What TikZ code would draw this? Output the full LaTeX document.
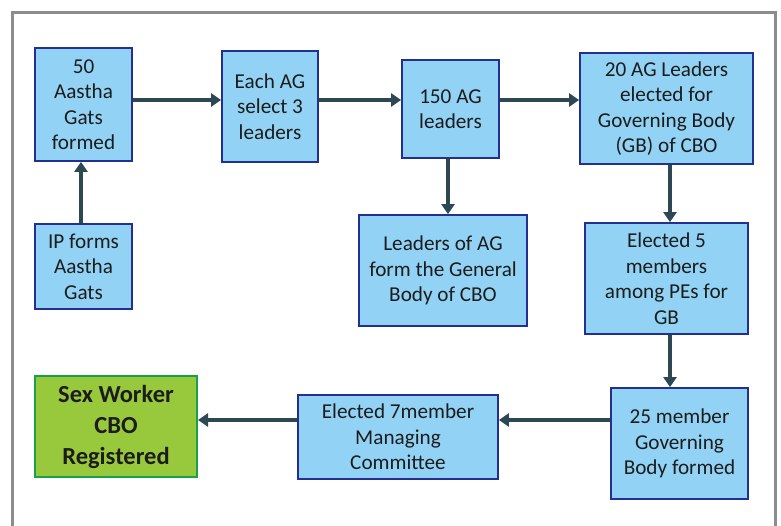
\documentclass[tikz,border=0pt]{standalone}
\usepackage{fontspec}
\setmainfont{Carlito}
\usetikzlibrary{arrows.meta}
\definecolor{boxfill}{HTML}{92D3F5}
\definecolor{boxline}{HTML}{24308F}
\definecolor{greenfill}{HTML}{98C93C}
\definecolor{greenline}{HTML}{18A04C}
\definecolor{arrowcol}{HTML}{2D4853}
\definecolor{framecol}{HTML}{8C8C8C}
\definecolor{txt}{HTML}{1C1C1C}
\tikzset{
  bluebox/.style={draw=boxline, fill=boxfill, line width=1.8pt, inner sep=0pt,
    align=center, text=txt, font=\fontsize{21.2}{25.5}\selectfont},
  greenbox/.style={draw=greenline, fill=greenfill, line width=2pt, inner sep=0pt,
    align=center, text=txt, font=\fontsize{24.5}{31}\selectfont\bfseries},
  flow/.style={draw=arrowcol, line width=4.2pt, -{Triangle[length=10pt,width=13pt]}}
}
\begin{document}
\begin{tikzpicture}[x=1pt,y=1pt]
\useasboundingbox (0,0) rectangle (781,526);
\fill[white] (0,0) rectangle (781,526);
\draw[framecol, line width=3pt] (12,-10) -- (12,513) -- (775,513) -- (775,-10);

\node[bluebox, minimum width=97pt, minimum height=113pt] (b1) at (83.5,421.5) {50\\Aastha\\Gats\\formed};
\node[bluebox, minimum width=96pt, minimum height=111pt] (b2) at (270,419.5) {Each AG\\select 3\\leaders};
\node[bluebox, minimum width=97pt, minimum height=98pt] (b3) at (450.5,417) {150 AG\\leaders};
\node[bluebox, minimum width=173pt, minimum height=111pt] (b4) at (666.5,417.5) {20 AG Leaders\\elected for\\Governing Body\\(GB) of CBO};
\node[bluebox, minimum width=97pt, minimum height=85pt] (b5) at (83.5,259.5) {IP forms\\Aastha\\Gats};
\node[bluebox, minimum width=168pt, minimum height=111pt] (b6) at (443,255.5) {Leaders of AG\\form the General\\Body of CBO};
\node[bluebox, minimum width=163pt, minimum height=111pt] (b7) at (666.5,247.5) {Elected 5\\members\\among PEs for\\GB};
\node[bluebox, minimum width=137pt, minimum height=111pt] (b8) at (679.5,82.5) {25 member\\Governing\\Body formed};
\node[bluebox, minimum width=200pt, minimum height=84pt] (b9) at (398,89) {Elected 7member\\Managing\\Committee};
\node[greenbox, minimum width=162pt, minimum height=101pt] (b10) at (116,99.5) {Sex Worker\\CBO\\Registered};

\draw[flow] ([yshift=4.5pt]b1.east) -- ([yshift=4.5pt]b1.east -| b2.west);
\draw[flow] ([yshift=6.5pt]b2.east) -- ([yshift=6.5pt]b2.east -| b3.west);
\draw[flow] ([yshift=9pt]b3.east) -- ([yshift=9pt]b3.east -| b4.west);
\draw[flow] ([xshift=-2.5pt]b5.north) -- ([xshift=-2.5pt]b5.north |- b1.south);
\draw[flow] ([xshift=-2.5pt]b3.south) -- ([xshift=-2.5pt]b3.south |- b6.north);
\draw[flow] ([xshift=3.5pt]b4.south) -- ([xshift=3.5pt]b4.south |- b7.north);
\draw[flow] ([xshift=3.5pt]b7.south) -- ([xshift=3.5pt]b7.south |- b8.north);
\draw[flow] ([yshift=23.5pt]b8.west) -- ([yshift=23.5pt]b8.west -| b9.east);
\draw[flow] ([yshift=17pt]b9.west) -- ([yshift=17pt]b9.west -| b10.east);
\end{tikzpicture}
\end{document}
